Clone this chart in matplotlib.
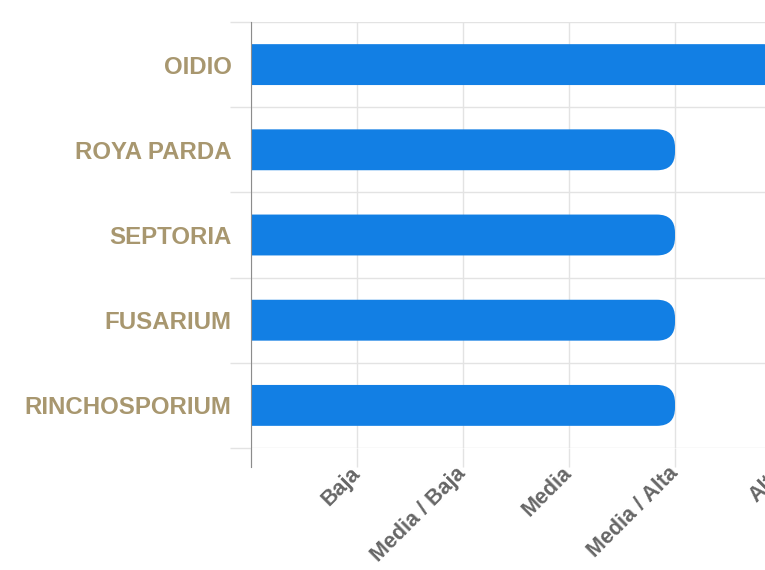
import matplotlib.pyplot as plt
from matplotlib.patches import FancyBboxPatch
import numpy as np

enfermedades = ['OIDIO', 'ROYA PARDA', 'SEPTORIA', 'FUSARIUM', 'RINCHOSPORIUM']
niveles = [5, 4, 4, 4, 4]
etiquetas_x = ['', 'Baja', 'Media / Baja', 'Media', 'Media / Alta', 'Alta']

azul = '#127fe4'
dorado = '#a8976f'
gris_txt = '#666666'
gris_grid = '#e3e3e3'

plt.rcParams['font.family'] = ['Liberation Sans', 'DejaVu Sans']

fig = plt.figure(figsize=(7.65, 5.70), dpi=100)
W, H = 765, 570
ax = fig.add_axes([251 / W, (570 - 448) / H, (781 - 251) / W, 426 / H])
ax.set_xlim(0, 5)
ax.set_ylim(len(enfermedades) - 0.5, -0.5)

# radio del redondeo en pixeles -> unidades de datos
px_x = 1 / 106.0
px_y = 1 / 85.2
radio = 18
alto = 0.48
for i, v in enumerate(niveles):
    caja = FancyBboxPatch((-1, i - alto / 2), v + 1, alto,
                          boxstyle=f"round,pad=0,rounding_size={radio * px_x}",
                          mutation_aspect=px_y / px_x,
                          facecolor=azul, edgecolor='none', zorder=3)
    ax.add_patch(caja)

ax.set_xticks(np.arange(len(etiquetas_x)))
ax.set_xticklabels(etiquetas_x, rotation=45, ha='right', va='center',
                   rotation_mode='anchor', fontsize=15.5, fontweight='bold',
                   color=gris_txt)
ax.tick_params(axis='x', length=14, color=gris_grid, width=1, pad=2)

ax.set_yticks(range(len(enfermedades)))
ax.set_yticklabels(enfermedades, fontsize=17.3, fontweight='bold', color=dorado)
ax.set_yticks(np.arange(len(enfermedades) + 1) - 0.5, minor=True)
ax.tick_params(axis='y', which='major', length=0, pad=14)
ax.tick_params(axis='y', which='minor', length=15, color=gris_grid, width=1)

ax.grid(True, axis='x', color=gris_grid, lw=1, zorder=0)
ax.grid(True, axis='y', which='minor', color=gris_grid, lw=1, zorder=0)
ax.set_axisbelow(True)

for s in ['top', 'right', 'bottom']:
    ax.spines[s].set_visible(False)
ax.spines['left'].set_color('#8c8c8c')
ax.spines['left'].set_zorder(4)
ax.spines['left'].set_bounds(len(enfermedades) - 0.5 + 19 / 85.2, -0.5)

fig.savefig('out.png', dpi=100)
